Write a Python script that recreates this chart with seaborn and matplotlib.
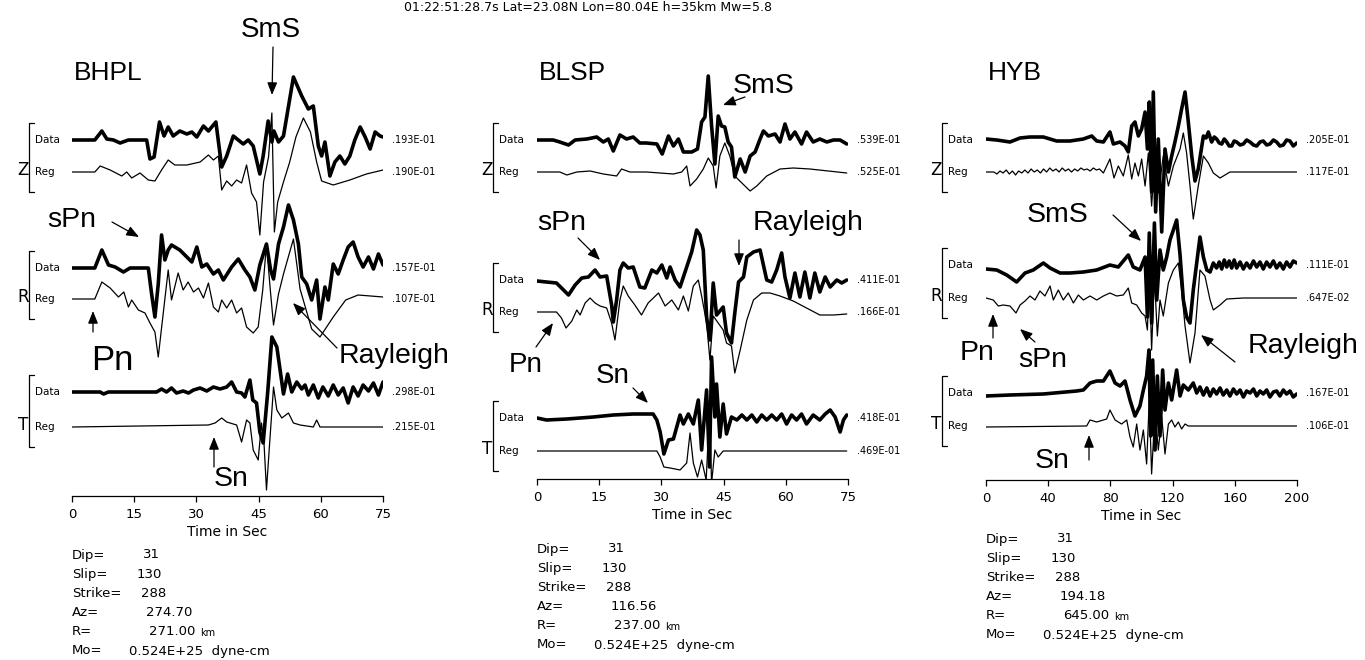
import numpy as np
import matplotlib
matplotlib.use("Agg")
import matplotlib.pyplot as plt
import seaborn as sns
from matplotlib.lines import Line2D
from matplotlib.patches import FancyArrowPatch

# ---- waveforms: time (s) and amplitude (above baseline) ----
# BHPL
bhpl_z_data_t = [0, 5.5, 7.2, 8.4, 10.0, 11.6, 13.6, 18.0, 18.8, 19.8, 21.1, 22.2, 23.2, 24.4, 26.0, 27.7, 28.9, 30.1,
                 31.7, 32.9, 34.7, 36.1, 37.3, 38.9, 40.1, 41.3, 42.5, 43.7, 45.3, 46.1, 47.3, 48.2, 48.7, 49.8, 51.0,
                 53.4, 55.4, 57.0, 58.2, 59.4, 60.2, 61.0, 62.2, 63.4, 64.6, 65.8, 67.0, 68.2, 69.5, 70.7, 71.9, 73.1,
                 74.3, 75.0]
bhpl_z_data = [0, 0, 9, 1, 0, -3, 0, 0, -19, -17, 18, 4, 13, 4, 9, 6, 8, 3, 14, 9, 18, -27, -16, 4, 0, -4, 0, -6, -34,
               -16, 19, -2, 9, -2, 4, 63, 44, 31, 34, -6, -16, -2, -36, -22, -16, -24, -16, 0, 13, 3, -9, 8, 4, 3]
bhpl_z_reg_t = [0, 5.5, 6.8, 9.2, 12.0, 13.2, 14.4, 16.4, 18.4, 20.0, 21.6, 23.2, 24.8, 27.7, 30.9, 32.9, 34.1, 35.3,
                36.1, 37.3, 38.5, 39.7, 40.9, 42.1, 43.3, 44.5, 45.3, 46.2, 47.4, 48.2, 48.8, 49.6, 51.0, 52.5, 54.0,
                55.8, 57.5, 59.0, 60.2, 63.0, 67.0, 71.0, 75.0]
bhpl_z_reg = [0, 0, 6, 2, -4, 0, -6, -1, -8, -9, 2, 12, 7, 7, 10, 17, 12, 16, -18, -9, -14, -8, -11, 7, -21, -30, -63,
              -10, 15, 59, -60, -30, -10, 10, 35, 54, 40, 10, -9, -13, -8, -2, 2]
bhpl_r_data_t = [0, 5.5, 7.2, 8.8, 10.4, 12.4, 14.0, 18.4, 19.2, 20.0, 20.8, 21.6, 22.4, 23.2, 24.0, 26.0, 27.7, 28.9,
                 30.1, 31.3, 32.5, 34.1, 35.3, 36.5, 38.5, 40.1, 41.7, 42.9, 44.1, 45.3, 46.9, 47.9, 48.6, 49.8, 51.0,
                 52.2, 53.4, 54.6, 55.4, 56.6, 57.8, 59.0, 59.8, 61.0, 61.8, 63.0, 64.2, 65.4, 66.6, 67.8, 69.0, 70.2,
                 71.5, 72.7, 73.9, 75.0]
bhpl_r_data = [0, 0, 18, 3, 1, -4, 0, 0, -26, -49, -16, 33, 8, 18, 23, 18, 11, 6, 21, 1, 4, -6, -2, -12, 1, 9, -2, -9,
               -22, 3, 24, -2, -11, 24, 41, 63, 48, 24, -9, -16, -32, -12, -51, -19, -32, 4, -6, 8, 21, 26, 11, 1, 11,
               -1, 14, 3]
bhpl_r_reg_t = [0, 5.5, 7.2, 9.2, 11.2, 12.5, 13.6, 14.4, 16.0, 17.6, 18.8, 20.0, 20.8, 21.9, 23.2, 24.0, 25.6, 26.8,
                28.0, 29.3, 30.5, 31.7, 32.9, 34.1, 35.3, 36.1, 37.3, 38.5, 39.7, 40.9, 42.1, 43.7, 44.9, 46.0, 46.9,
                47.8, 48.6, 49.8, 51.0, 53.4, 55.0, 57.8, 59.8, 63.0, 66.0, 69.0, 75.0]
bhpl_r_reg = [0, 0, 17, 11, 2, 7, -8, -1, -11, -14, -24, -33, -58, -18, 29, -1, 26, 9, 17, 7, 11, 1, 16, -8, -13, -1,
              -9, -1, -14, -9, -28, -34, -28, 9, 55, 10, -26, 5, 25, 60, 10, -30, -38, -18, -1, 4, 2]
bhpl_t_data_t = [0, 6.8, 7.6, 8.8, 20.4, 21.6, 22.8, 24.0, 25.2, 26.8, 28.1, 29.3, 30.9, 32.5, 34.1, 35.7, 37.3, 38.5,
                 39.7, 40.9, 41.7, 42.9, 43.6, 44.5, 45.3, 46.1, 47.2, 48.2, 49.4, 51.0, 52.0, 53.0, 54.2, 55.4, 56.2,
                 57.0, 58.2, 59.4, 60.5, 61.8, 63.0, 64.2, 65.4, 66.6, 67.8, 69.0, 70.2, 71.5, 72.7, 73.9, 75.0]
bhpl_t_data = [0, 0, -2, 0, 0, 3, 0, 4, -1, 1, -1, 2, 4, 1, 5, 3, 5, 10, 0, -1, -5, 12, -8, -11, -40, -51, 0, 55, 45,
               -2, 18, 0, 10, 3, 7, -3, 7, -6, 5, -4, 7, -3, 4, -11, 5, -4, 7, 1, 9, -3, 10]
bhpl_t_reg_t = [0, 32.9, 34.5, 36.1, 37.3, 39.7, 40.9, 42.1, 42.9, 43.7, 44.9, 45.7, 46.3, 46.9, 47.6, 48.6, 49.4, 50.6,
                52.2, 53.4, 55.0, 58.2, 59.0, 59.8, 75.0]
bhpl_t_reg = [0, 2, 4, 9, 5, 2, -15, 7, 4, -23, -33, 4, -16, -63, -20, 40, 17, 9, 14, 4, 2, 0, 7, 0, 0]

# BLSP
blsp_z_data_t = [0, 3.9, 5.5, 7.6, 9.2, 12.0, 14.4, 16.0, 17.2, 18.4, 20.0, 21.6, 23.2, 24.8, 26.4, 28.9, 30.2, 31.7,
                 32.9, 34.1, 35.3, 37.3, 38.7, 39.7, 40.5, 41.3, 42.1, 42.9, 43.7, 44.5, 45.3, 46.1, 46.9, 47.7, 49.0,
                 50.2, 51.4, 52.6, 53.8, 54.6, 55.8, 57.4, 58.6, 59.8, 61.0, 62.2, 63.8, 65.0, 66.6, 68.2, 69.9, 71.5,
                 73.1, 74.7]
blsp_z_data = [0, 0, -2, -5, 0, 1, 3, -2, 1, -11, 5, 1, 3, -3, -3, -4, -14, 4, -6, 1, -12, -12, -9, 18, 23, 64, 14,
               -24, 24, 14, 13, -2, -7, -37, -19, -32, -16, -12, 1, 9, 4, 6, -2, 16, 1, 8, -4, 8, -2, 1, -2, 0, 0, -4]
blsp_z_reg_t = [0, 5.5, 7.2, 9.6, 12.8, 16.0, 19.2, 20.4, 22.4, 26.4, 32.9, 34.9, 36.1, 36.9, 38.5, 40.1, 41.3, 42.5,
                43.2, 44.1, 45.3, 46.5, 47.7, 49.4, 51.4, 53.0, 55.4, 58.6, 61.8, 65.8, 74.7]
blsp_z_reg = [0, 0, -3, 0, 1, -2, -4, 3, 0, 0, -2, 0, 6, -14, -7, 3, 14, 6, -16, 16, 29, 16, -4, -11, -19, -14, -4, 3,
              4, 3, -1]
blsp_r_data_t = [0, 2.3, 4.7, 6.4, 7.6, 9.2, 10.8, 12.4, 14.0, 15.2, 16.8, 18.0, 18.4, 19.2, 20.0, 20.8, 22.0, 23.2,
                 24.8, 26.0, 27.7, 28.9, 30.1, 31.3, 32.1, 33.3, 34.5, 36.1, 37.3, 38.5, 39.3, 40.1, 40.9, 41.7, 42.5,
                 43.3, 44.9, 45.7, 46.9, 47.7, 48.6, 49.8, 50.6, 52.2, 53.8, 55.4, 56.6, 57.8, 59.0, 59.8, 61.0, 62.2,
                 63.4, 64.6, 65.8, 67.0, 68.2, 69.5, 70.7, 72.3, 73.5, 74.7]
blsp_r_data = [-1, -2, -3, -10, -15, -5, 2, 3, 10, 3, 4, -25, -42, -20, 10, 17, 12, 13, -7, -8, 10, 7, 15, 2, 13, 0,
               -7, 13, 28, 50, 45, 30, -37, -60, -3, -35, -27, -53, -63, -33, -2, 3, 23, 28, 30, 0, -2, 10, 27, 3, -18,
               7, -17, 8, -18, 7, -12, 3, -7, 0, -3, 0]
blsp_r_reg_t = [0, 4.7, 5.9, 7.0, 8.4, 9.6, 10.4, 11.6, 12.8, 14.0, 15.2, 16.8, 18.0, 18.8, 20.0, 20.8, 22.0, 23.6,
                25.2, 26.8, 29.3, 30.9, 32.5, 34.1, 35.3, 36.5, 37.7, 38.9, 39.7, 40.9, 41.7, 42.5, 43.7, 44.9, 45.7,
                46.9, 47.7, 49.0, 50.6, 52.2, 54.2, 56.2, 58.6, 61.8, 65.0, 68.2, 71.5, 74.7]
blsp_r_reg = [0, 0, -6, -16, -9, 2, -3, 9, 14, 9, 6, 4, -11, -28, 12, 26, 16, 7, -3, 9, 19, 6, 12, 2, 16, 1, 26, 32,
              16, -11, -48, -4, -11, -18, -31, -34, -61, -38, -8, 12, 19, 19, 16, 11, 4, -3, -3, -2]
blsp_t_data_t = [0, 2.3, 7.2, 13.6, 18.4, 23.2, 28.0, 28.9, 29.7, 30.6, 31.7, 32.9, 34.5, 35.3, 36.5, 37.7, 38.9, 39.7,
                 40.9, 41.6, 42.1, 42.9, 43.3, 44.1, 44.9, 45.7, 46.9, 48.2, 49.4, 50.6, 51.8, 53.0, 54.2, 55.4, 56.6,
                 57.8, 59.0, 60.2, 61.4, 62.6, 63.8, 65.0, 66.6, 68.2, 69.5, 70.7, 71.9, 73.1, 73.9, 74.7]
blsp_t_data = [0, -2, -1, 1, 3, 4, 4, -2, -14, -36, -22, -21, 3, -6, 4, -6, 18, -32, 28, -49, 61, 1, 34, -19, 14, -16,
               1, -2, 3, -2, 3, -4, 3, -2, 3, -2, 4, -6, 3, -2, 4, -6, 3, -2, 4, 8, 1, -14, -2, 3]
blsp_t_reg_t = [0, 28.9, 29.7, 30.6, 32.1, 34.5, 36.1, 36.9, 37.7, 38.7, 39.7, 40.8, 41.6, 42.1, 42.9, 43.7, 44.9, 74.7]
blsp_t_reg = [0, 0, -6, -16, -17, -19, -12, 18, -12, -26, -9, -29, 41, -32, 1, -6, 0, 0]

# HYB
hyb_z_data_t = [0, 6.9, 15.4, 21.9, 28.3, 36.9, 45.4, 54.0, 62.6, 68.0, 71.2, 75.5, 79.7, 81.9, 86.2, 89.4, 91.5, 93.7,
                95.8, 98.0, 100.1, 102.3, 103.8, 105.0, 106.5, 107.6, 109.1, 110.8, 113.0, 115.1, 117.3, 119.4, 121.5,
                123.7, 125.8, 128.0, 130.1, 132.3, 134.4, 136.5, 139.8, 141.5, 143.0, 145.1, 146.8, 148.3, 150.0, 151.6,
                153.2, 154.8, 156.4, 158.0, 159.6, 161.2, 163.4, 165.5, 167.6, 169.8, 172.0, 174.1, 176.2, 178.3, 180.5,
                182.6, 184.8, 186.9, 189.0, 191.2, 193.3, 195.5, 197.6, 199.8]
hyb_z_data = [1, 0, -2, 2, 3, 3, -1, -1, 1, 4, -1, -2, 8, -4, -2, -6, -12, 14, 18, 4, 11, 28, -9, 38, -52, 48, -72, 1,
              -92, -9, -32, -16, -2, 14, 31, 48, 18, -16, -41, -29, 4, 2, 8, -2, 3, 1, -3, -4, 1, -2, -6, -6, -1, -2,
              -5, -4, 0, -2, -5, -6, -2, -1, -5, -4, 0, -2, -6, -5, 0, -1, -6, -3]
hyb_z_reg_t = [0, 5, 7, 9, 11, 13, 15, 17, 19, 21, 23, 25, 27, 29, 31, 33, 35, 37, 39, 41, 43, 45, 47, 49, 51, 53, 55,
               57, 59, 61, 63, 65, 67, 69, 71, 73, 75.5, 79.7, 82.3, 85.1, 88.3, 91.5, 93.7, 95.8, 98.0, 100.1, 102.3,
               104.4, 106.5, 108.7, 110.8, 114.0, 117.3, 120.5, 124.8, 126.9, 129.0, 131.2, 133.3, 136.5, 139.8, 143.0,
               146.2, 150.5, 156.9, 165.5, 199.8]
hyb_z_reg = [0, 0, -2, 1, -1, 2, -2, 1, -3, 1, -1, 2, -1, 3, 0, 2, -1, 3, 0, 4, 1, 3, 0, 4, 1, 3, 0, 3, 1, 4, 2, 3, 1,
             4, 2, 3, -1, 13, -6, 6, -4, 17, -7, 9, -4, 13, -14, 19, -34, 16, -21, 16, -14, 6, 23, 39, 19, -14, -47,
             -14, 16, 9, -1, -6, 0, 0, 0]
hyb_r_data_t = [0, 6.9, 13.3, 19.7, 25.1, 30.4, 36.9, 41.2, 47.6, 54.0, 62.6, 71.2, 79.7, 85.1, 91.5, 94.7, 99.0, 102.3,
                103.8, 105.0, 106.5, 108.3, 109.8, 111.9, 114.0, 116.2, 118.3, 120.5, 122.6, 124.8, 126.9, 129.0, 131.2,
                133.3, 135.5, 137.6, 139.8, 142.0, 144.1, 146.2, 148.3, 150.0, 151.6, 153.2, 154.8, 156.4, 158.0, 159.6,
                161.2, 163.4, 165.5, 167.6, 169.8, 172.0, 174.1, 176.2, 178.3, 180.5, 182.6, 184.8, 186.9, 189.0, 191.2,
                193.3, 195.5, 197.6, 199.8]
hyb_r_data = [-4, -5, -10, -17, -8, -5, 2, -3, -8, -8, -7, -5, 0, -2, 10, -2, -5, 8, -52, 32, -58, 42, -35, 15, -5, 8,
              25, 35, 45, 10, -35, -52, -58, -25, 2, 28, 8, -5, -7, 2, -3, 3, -4, 5, -2, 4, -3, 5, -3, 3, -4, 2, -3, 4,
              -2, 3, -4, 3, -2, 4, -3, 2, -4, 3, -2, 4, 2]
hyb_r_reg_t = [0, 4.7, 7.9, 11.1, 15.4, 19.3, 21.9, 25.1, 28.3, 31.5, 34.7, 37.9, 41.2, 43.3, 46.5, 49.7, 52.9, 56.2,
               59.4, 62.6, 66.9, 71.2, 75.5, 79.7, 84.0, 88.3, 91.5, 93.7, 96.9, 100.1, 102.3, 103.8, 105.0, 106.5,
               108.3, 110.2, 111.9, 114.0, 117.3, 120.5, 123.7, 125.8, 128.0, 131.2, 134.4, 137.6, 140.8, 144.1, 146.2,
               150.5, 154.8, 165.5, 199.8]
hyb_r_reg = [0, -2, -8, -7, -8, -15, -7, -3, 2, -2, 7, 2, 12, -2, 8, -2, 5, -5, 3, -2, 2, -2, 2, 5, 2, 3, 10, -5, -7,
             -15, -18, -32, 28, -52, 22, -38, -2, -18, 15, 28, 35, 8, -28, -65, -35, 28, 22, -2, -12, -7, -1, 0, 0]
hyb_t_data_t = [0, 15.4, 36.9, 58.3, 62.6, 66.9, 71.2, 75.5, 79.7, 83.0, 86.2, 89.4, 92.6, 95.8, 99.0, 101.2, 103.3,
                104.8, 105.9, 107.2, 108.7, 110.2, 111.9, 113.6, 115.1, 117.3, 119.4, 122.6, 124.8, 126.9, 130.1, 133.3,
                135.5, 137.6, 139.8, 142.0, 144.1, 146.2, 148.3, 150.5, 152.6, 154.8, 156.9, 159.1, 161.2, 163.4, 165.5,
                167.6, 169.8, 172.0, 174.1, 176.2, 178.3, 180.5, 182.6, 184.8, 186.9, 189.0, 191.2, 193.3, 195.5, 197.6,
                199.8]
hyb_t_data = [-3, -2, -1, 2, 3, 10, 12, 12, 22, 10, 7, 12, -7, -23, -13, 3, 17, 43, -43, 33, -57, 17, -43, 23, -17, 10,
              -7, 23, -3, 8, 3, 10, 0, 6, -2, 5, -3, 4, -1, 5, -2, 3, -3, 4, -1, 3, -4, 2, 0, 4, -3, 2, -1, 3, -4, 1,
              2, -3, 3, -1, 2, -4, -1]
hyb_t_reg_t = [0, 64.7, 66.9, 71.2, 77.6, 79.7, 83.0, 87.2, 90.5, 92.6, 94.7, 96.9, 99.0, 101.2, 103.3, 105.0, 106.5,
               108.7, 110.8, 113.0, 115.1, 117.3, 119.4, 121.5, 123.7, 125.8, 128.0, 130.1, 133.3, 199.8]
hyb_t_reg = [-1, 0, 6, 4, 7, 16, 6, 2, 6, -11, -21, 2, -24, -4, -38, 26, -48, 16, -24, 9, -28, 2, 6, -1, 4, -3, 2, 0, 0,
             0]

# ---- labels ----
stations = ["BHPL", "BLSP", "HYB"]
t_max = [75, 75, 200]
t_ticks = [[0, 15, 30, 45, 60, 75], [0, 15, 30, 45, 60, 75], [0, 40, 80, 120, 160, 200]]
components = ["Z", "R", "T"]
scale_labels = [[".193E-01", ".190E-01", ".157E-01", ".107E-01", ".298E-01", ".215E-01"],
                [".539E-01", ".525E-01", ".411E-01", ".166E-01", ".418E-01", ".469E-01"],
                [".205E-01", ".117E-01", ".111E-01", ".647E-02", ".167E-01", ".106E-01"]]
dip, slip, strike, mo = "31", "130", "288", "0.524E+25"
azimuth = ["274.70", "116.56", "194.18"]
distance = ["271.00", "237.00", "645.00"]
title = "01:22:51:28.7s Lat=23.08N Lon=80.04E h=35km Mw=5.8"

traces = [
    [(bhpl_z_data_t, bhpl_z_data), (bhpl_z_reg_t, bhpl_z_reg), (bhpl_r_data_t, bhpl_r_data),
     (bhpl_r_reg_t, bhpl_r_reg), (bhpl_t_data_t, bhpl_t_data), (bhpl_t_reg_t, bhpl_t_reg)],
    [(blsp_z_data_t, blsp_z_data), (blsp_z_reg_t, blsp_z_reg), (blsp_r_data_t, blsp_r_data),
     (blsp_r_reg_t, blsp_r_reg), (blsp_t_data_t, blsp_t_data), (blsp_t_reg_t, blsp_t_reg)],
    [(hyb_z_data_t, hyb_z_data), (hyb_z_reg_t, hyb_z_reg), (hyb_r_data_t, hyb_r_data),
     (hyb_r_reg_t, hyb_r_reg), (hyb_t_data_t, hyb_t_data), (hyb_t_reg_t, hyb_t_reg)],
]

# ---- layout in pixels (from top-left) ----
W, H = 1365, 660
left_px = [72, 537, 986]
right_px = [383, 848, 1297]
axis_px = [496, 479, 480]
base_px = [[140, 172, 268, 299, 392, 427],
           [140, 172, 280, 312, 418, 451],
           [140, 172, 265, 298, 393, 426]]
bracket_x = [29, 493, 942]
info_top = [555, 549, 539]
info_step = 19.2

# phase picks: text, x, baseline y, size, arrow tail, arrow head
phases = [
    [("SmS", 271, 37, 20, (273, 47), (272, 95)),
     ("sPn", 72, 227, 20.5, (112, 222), (139, 237)),
     ("Pn", 112, 370, 25, (93, 332), (93, 311)),
     ("Rayleigh", 394, 363, 20.5, (337, 348), (293, 303)),
     ("Sn", 231, 486, 20.5, (214, 467), (214, 437))],
    [("SmS", 764, 93, 20.5, (745, 97), (723, 105)),
     ("sPn", 562, 230, 20.5, (578, 238), (600, 260)),
     ("Rayleigh", 808, 230, 20.5, (739, 240), (739, 266)),
     ("Pn", 526, 372, 20, (536, 347), (553, 323)),
     ("Sn", 613, 383, 20, (633, 388), (648, 403))],
    [("SmS", 1058, 222, 20.5, (1113, 215), (1141, 241)),
     ("Pn", 977, 360, 20.5, (993, 338), (993, 314)),
     ("sPn", 1043, 367, 20.5, (1035, 342), (1020, 329)),
     ("Rayleigh", 1303, 353, 20.5, (1235, 362), (1201, 335)),
     ("Sn", 1052, 468, 20.5, (1089, 460), (1089, 435))],
]

sns.set_style("white")
plt.rcParams['font.family'] = ['DejaVu Sans']
plt.rcParams['text.color'] = 'black'
plt.rcParams['axes.labelcolor'] = 'black'
plt.rcParams['xtick.color'] = 'black'
big_font = ['Liberation Sans', 'DejaVu Sans']

fig = plt.figure(figsize=(W / 100, H / 100), dpi=100)


def fpos(x, y):
    return x / W, 1 - y / H


def ftext(x, y, s, **kw):
    fx, fy = fpos(x, y)
    return fig.text(fx, fy, s, **kw)


def fline(xs, ys, lw=0.9):
    fig.add_artist(Line2D([x / W for x in xs], [1 - y / H for y in ys], color='k', lw=lw))


def farrow(tail, head):
    fig.add_artist(FancyArrowPatch(fpos(*tail), fpos(*head), transform=fig.transFigure,
                                   arrowstyle='-|>,head_length=0.75,head_width=0.3', mutation_scale=10,
                                   lw=0.9, color='k', shrinkA=0, shrinkB=0))


# event line at the very top
ftext(588, 11, title, ha='center', va='baseline', fontsize=9)

renderer = fig.canvas.get_renderer()

for i, name in enumerate(stations):
    x0, x1, ay = left_px[i], right_px[i], axis_px[i]
    ax = fig.add_axes([x0 / W, 1 - ay / H, (x1 - x0) / W, ay / H])
    ax.set_facecolor('none')

    # traces, y in pixels below the top of the figure
    for k, (t, amp) in enumerate(traces[i]):
        y = base_px[i][k] - np.array(amp, dtype=float)
        lw = 2.6 if k % 2 == 0 else 0.9
        sns.lineplot(x=t, y=y, ax=ax, color='k', lw=lw, estimator=None, sort=False,
                     solid_joinstyle='round', solid_capstyle='round')

    ax.set_xlim(0, t_max[i])
    ax.set_ylim(ay, 0)
    ax.set_yticks([])
    ax.set_ylabel("")
    ax.set_xticks(t_ticks[i])
    ax.tick_params(axis='x', direction='out', length=4.5, width=0.9, pad=4, labelsize=9.5, bottom=True)
    ax.set_xlabel("Time in Sec", fontsize=10, labelpad=3)
    for side in ['top', 'left', 'right']:
        ax.spines[side].set_visible(False)
    ax.spines['bottom'].set_linewidth(0.9)
    ax.spines['bottom'].set_color('k')

    # component brackets and labels
    bx = bracket_x[i]
    for c in range(3):
        yd, yr = base_px[i][2 * c], base_px[i][2 * c + 1]
        top, bot = yd - 17, yr + 20
        fline([bx + 5, bx, bx, bx + 5], [top, top, bot, bot])
        ftext(bx - 6, yr - 2, components[c], ha='center', va='center', fontsize=12)
        ftext(bx + 6, yd, "Data", ha='left', va='center', fontsize=7.5)
        ftext(bx + 6, yr, "Reg", ha='left', va='center', fontsize=7.5)
        ftext(x1 + 9, yd, scale_labels[i][2 * c], ha='left', va='center', fontsize=7)
        ftext(x1 + 9, yr, scale_labels[i][2 * c + 1], ha='left', va='center', fontsize=7)

    # station name
    ftext(x0 + 2, 80, name, ha='left', va='baseline', fontsize=19, family=big_font)

    # phase picks
    for s, tx, ty, size, tail, head in phases[i]:
        ftext(tx, ty, s, ha='center', va='baseline', fontsize=size, family=big_font)
        farrow(tail, head)

    # source info
    rows = [("Dip=", dip, 71), ("Slip=", slip, 65), ("Strike=", strike, 69),
            ("Az=", azimuth[i], 74), ("R=", distance[i], 77), ("Mo=", mo + "  dyne-cm", 57)]
    for r, (lab, val, dx) in enumerate(rows):
        y = info_top[i] + r * info_step
        ftext(x0, y, lab, ha='left', va='center', fontsize=9.5)
        vt = ftext(x0 + dx, y, val, ha='left', va='center', fontsize=9.5)
        if lab == "R=":
            bb = vt.get_window_extent(renderer)
            fig.text((bb.x1 + 5) / W, 1 - (y + 1) / H, "km", ha='left', va='center', fontsize=7)

fig.savefig("out.png", dpi=100)
